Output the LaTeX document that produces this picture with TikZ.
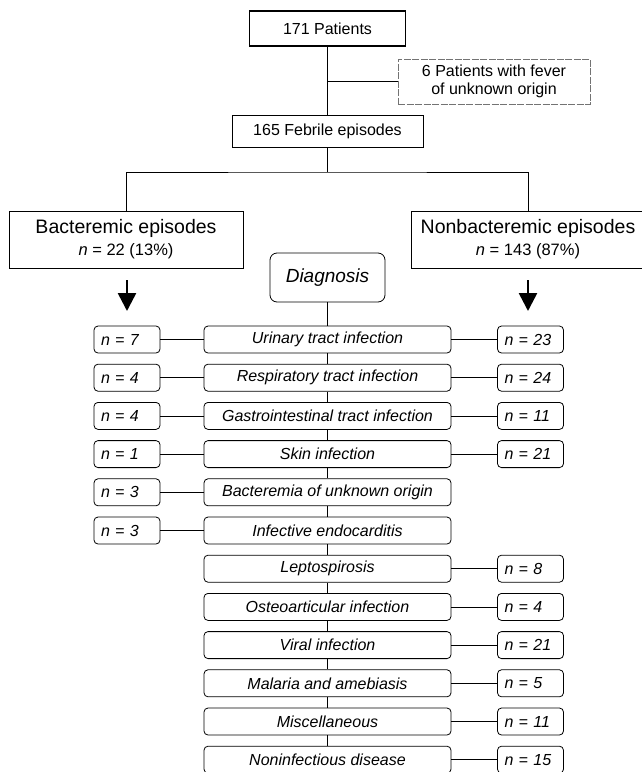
\documentclass[tikz,border=0pt]{standalone}
\usepackage{fontspec}
\setmainfont{Liberation Sans}
\usetikzlibrary{arrows.meta}
\begin{document}
\begin{tikzpicture}[x=1pt,y=-1pt,
  every node/.style={inner sep=0pt, font=\fontsize{16}{18}\selectfont},
  sqbox/.style={draw, line width=0.8pt},
  gbox/.style={draw=black!55, line width=0.7pt, dash pattern=on 7pt off 1.5pt},
  headbox/.style={sqbox, minimum width=234pt, minimum height=57pt, align=center,
    font=\fontsize{16.5}{22}\selectfont},
  diagbox/.style={draw, line width=0.8pt, rounded corners=7pt, minimum width=115pt,
    minimum height=49pt, font=\itshape\fontsize{19}{22}\selectfont},
  cbox/.style={draw, line width=0.8pt, rounded corners=4pt, minimum width=247pt,
    minimum height=27pt, font=\itshape\fontsize{16}{18}\selectfont},
  nbox/.style={draw, line width=0.8pt, rounded corners=4pt, minimum height=27pt,
    text width=52pt, inner xsep=7pt, align=left, font=\itshape\fontsize{16}{18}\selectfont},
  link/.style={line width=0.8pt},
  bigarrow/.style={line width=2.6pt, -{Triangle[width=18pt,length=18pt]}}
]
\useasboundingbox (0,0) rectangle (641,772);

% top part
\node[sqbox, line width=1.8pt, minimum width=156pt, minimum height=35pt] (pat) at (327.5,28.5) {171 Patients};
\node[gbox, minimum width=192pt, minimum height=45pt, align=center] (fuo) at (494,81.5) {6 Patients with fever\\of unknown origin};
\node[sqbox, minimum width=191pt, minimum height=32pt] (feb) at (327.5,131) {165 Febrile episodes};
\draw[line width=1.3pt] (pat) -- (feb);
\draw[link] (pat.south |- fuo.west) -- (fuo.west);

\node[headbox] (bac) at (126,239.5) {{\fontsize{19.5}{22}\selectfont Bacteremic episodes}\\\textit{n} = 22 (13\%)};
\node[headbox] (nbac) at (528,239.5) {{\fontsize{19.5}{22}\selectfont Nonbacteremic episodes}\\\textit{n} = 143 (87\%)};
\coordinate (split) at (327.5,172);
\draw[line width=1.3pt] (feb) -- (split);
\draw[link] (bac.north) |- (split) -| (nbac.north);

\coordinate (la1) at (127,280); \coordinate (la2) at (127,311);
\coordinate (ra1) at (528,280); \coordinate (ra2) at (528,311);
\draw[bigarrow] (la1) -- (la2);
\draw[bigarrow] (ra1) -- (ra2);

\node[diagbox] (diag) at (327.5,277.5) {Diagnosis};

% diagnosis rows
\node[cbox] (c1)  at (327.5,339.5) {Urinary tract infection};
\node[cbox] (c2)  at (327.5,377.7) {Respiratory tract infection};
\node[cbox] (c3)  at (327.5,415.9) {Gastrointestinal tract infection};
\node[cbox] (c4)  at (327.5,454.1) {Skin infection};
\node[cbox] (c5)  at (327.5,492.3) {Bacteremia of unknown origin};
\node[cbox] (c6)  at (327.5,530.5) {Infective endocarditis};
\node[cbox] (c7)  at (327.5,568.7) {Leptospirosis};
\node[cbox] (c8)  at (327.5,606.9) {Osteoarticular infection};
\node[cbox] (c9)  at (327.5,645.1) {Viral infection};
\node[cbox] (c10) at (327.5,683.3) {Malaria and amebiasis};
\node[cbox] (c11) at (327.5,721.5) {Miscellaneous};
\node[cbox] (c12) at (327.5,759.7) {Noninfectious disease};

\draw[link] (diag) -- (c1);
\foreach \a/\b in {1/2,2/3,3/4,4/5,5/6,6/7,7/8,8/9,9/10,10/11,11/12}
  \draw[link] (c\a) -- (c\b);

% bacteremic counts
\node[nbox] (l1) at (127,339.5) {n = 7};
\node[nbox] (l2) at (127,377.7) {n = 4};
\node[nbox] (l3) at (127,415.9) {n = 4};
\node[nbox] (l4) at (127,454.1) {n = 1};
\node[nbox] (l5) at (127,492.3) {n = 3};
\node[nbox] (l6) at (127,530.5) {n = 3};
\foreach \i in {1,...,6}
  \draw[link] (l\i) -- (c\i);

% nonbacteremic counts
\node[nbox] (r1)  at (530.5,339.5) {n = 23};
\node[nbox] (r2)  at (530.5,377.7) {n = 24};
\node[nbox] (r3)  at (530.5,415.9) {n = 11};
\node[nbox] (r4)  at (530.5,454.1) {n = 21};
\node[nbox] (r7)  at (530.5,568.7) {n = 8};
\node[nbox] (r8)  at (530.5,606.9) {n = 4};
\node[nbox] (r9)  at (530.5,645.1) {n = 21};
\node[nbox] (r10) at (530.5,683.3) {n = 5};
\node[nbox] (r11) at (530.5,721.5) {n = 11};
\node[nbox] (r12) at (530.5,759.7) {n = 15};
\foreach \i in {1,2,3,4,7,8,9,10,11,12}
  \draw[link] (c\i) -- (r\i);
\end{tikzpicture}
\end{document}
